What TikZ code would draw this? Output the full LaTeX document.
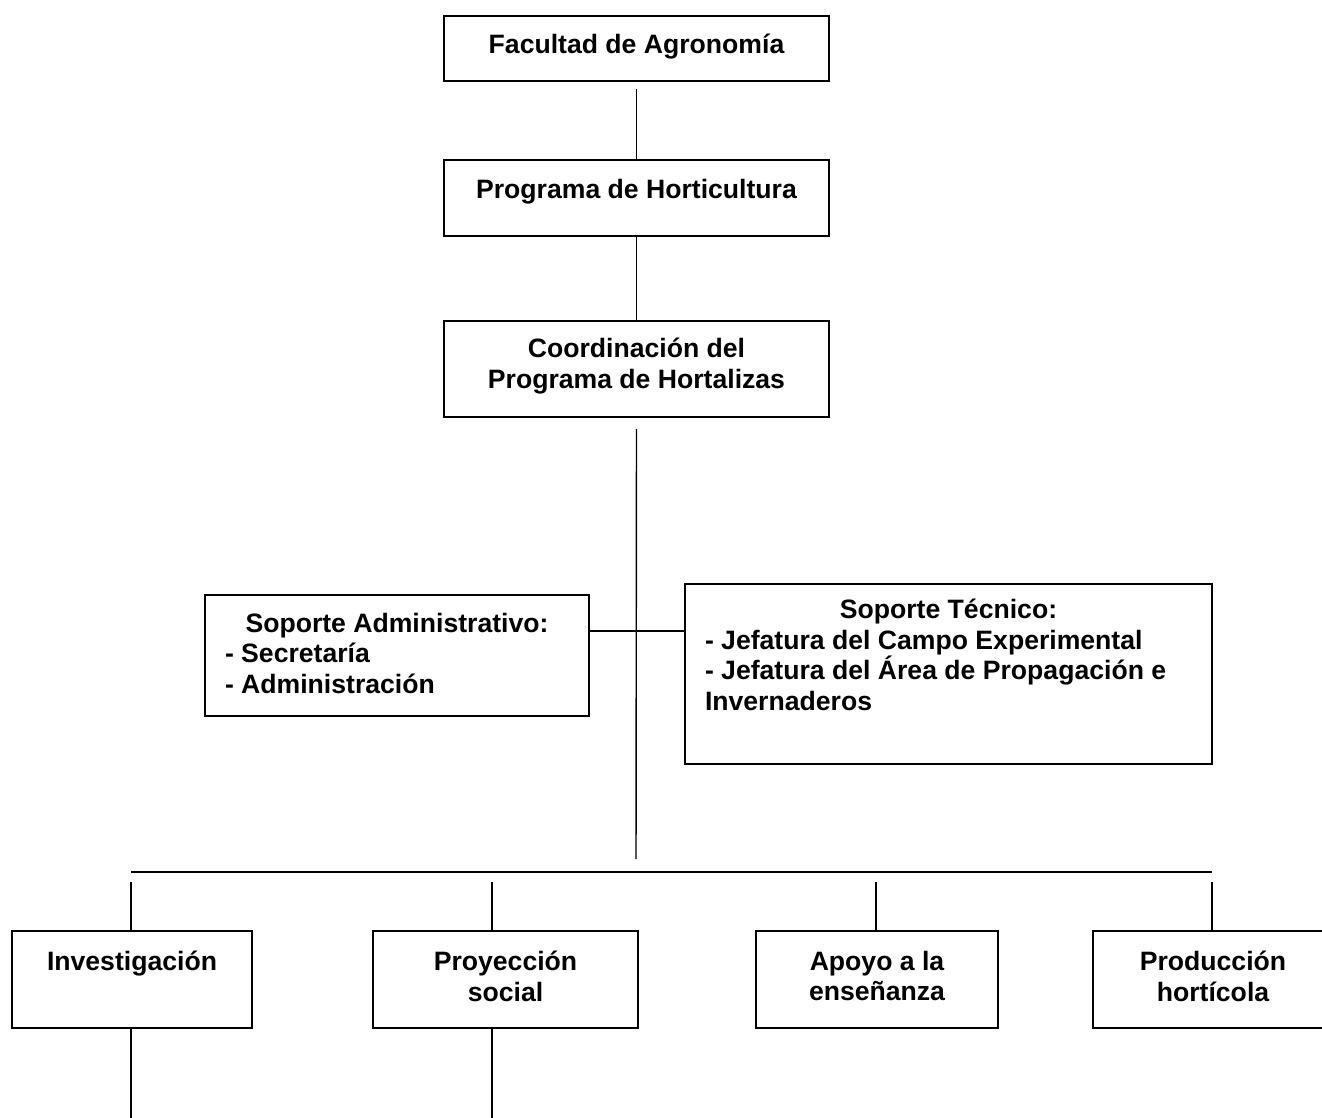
\documentclass[tikz,border=0pt]{standalone}
\usepackage{fontspec}
\setmainfont{Liberation Sans}
\newcommand\orgtext[4]{\parbox[b][#2][t]{#1}{\vspace*{#3}#4}}
\tikzset{
  orgbox/.style={draw, line width=2pt, inner sep=0pt, anchor=north west,
    font=\bfseries\fontsize{26.6}{30.6}\selectfont},
  conn/.style={line width=1.4pt},
  busline/.style={line width=2.4pt},
}
\begin{document}
\begin{tikzpicture}[x=1pt,y=-1pt]
\path[use as bounding box] (0,0) rectangle (1322,1118);
\clip (0,0) rectangle (1322,1118);
% top chain
\node[orgbox] (A) at (443,15) {\orgtext{385pt}{65pt}{18pt}{\centering Facultad de Agronomía}};
\node[orgbox] (B) at (443,159) {\orgtext{385pt}{76pt}{19pt}{\centering Programa de Horticultura}};
\node[orgbox] (C) at (443,320) {\orgtext{385pt}{96pt}{17pt}{\centering Coordinación del\\Programa de Hortalizas}};
% support boxes
\node[orgbox] (D) at (204,594) {\orgtext{384pt}{121pt}{18pt}{\parindent=0pt{\centering Soporte Administrativo:\par}\raggedright\leftskip=20pt - Secretaría\\- Administración}};
\node[orgbox] (E) at (684,583) {\orgtext{527pt}{180pt}{15pt}{\parindent=0pt{\centering Soporte Técnico:\par}\raggedright\leftskip=20pt - Jefatura del Campo Experimental\\- Jefatura del Área de Propagación e\\Invernaderos}};
% bottom row
\node[orgbox] (F) at (11,930) {\orgtext{240pt}{97pt}{20pt}{\centering Investigación}};
\node[orgbox] (G) at (372,930) {\orgtext{265pt}{97pt}{20pt}{\centering Proyección\\social}};
\node[orgbox] (H) at (755,930) {\orgtext{242pt}{97pt}{20pt}{\centering Apoyo a la\\enseñanza}};
\node[orgbox] (I) at (1092,930) {\orgtext{240pt}{97pt}{20pt}{\centering Producción\\hortícola}};
% coordinates
\coordinate (jn) at (636,631);
\coordinate (busM) at (636,872);
\coordinate (d1) at (131,872);
\coordinate (d2) at (492,872);
\coordinate (d3) at (876,872);
\coordinate (d4) at (1212,872);
\coordinate (f1) at (131,1118);
\coordinate (f2) at (492,1118);
% connectors
\draw[conn, shorten <=7pt] (A.south) -- (B.north);
\draw[conn] (B.south) -- (C.north);
\draw[conn, shorten <=11pt, shorten >=13pt] (C.south) -- (busM);
\draw[conn] (D.east |- jn) -- (E.west |- jn);
\draw[busline] (d1) -- (d4);
\draw[conn, shorten <=10pt] (d1) -- (d1 |- F.north);
\draw[conn, shorten <=10pt] (d2) -- (d2 |- G.north);
\draw[conn, shorten <=10pt] (d3) -- (d3 |- H.north);
\draw[conn, shorten <=10pt] (d4) -- (d4 |- I.north);
\draw[conn] (f1 |- F.south) -- (f1);
\draw[conn] (f2 |- G.south) -- (f2);
\end{tikzpicture}
\end{document}
